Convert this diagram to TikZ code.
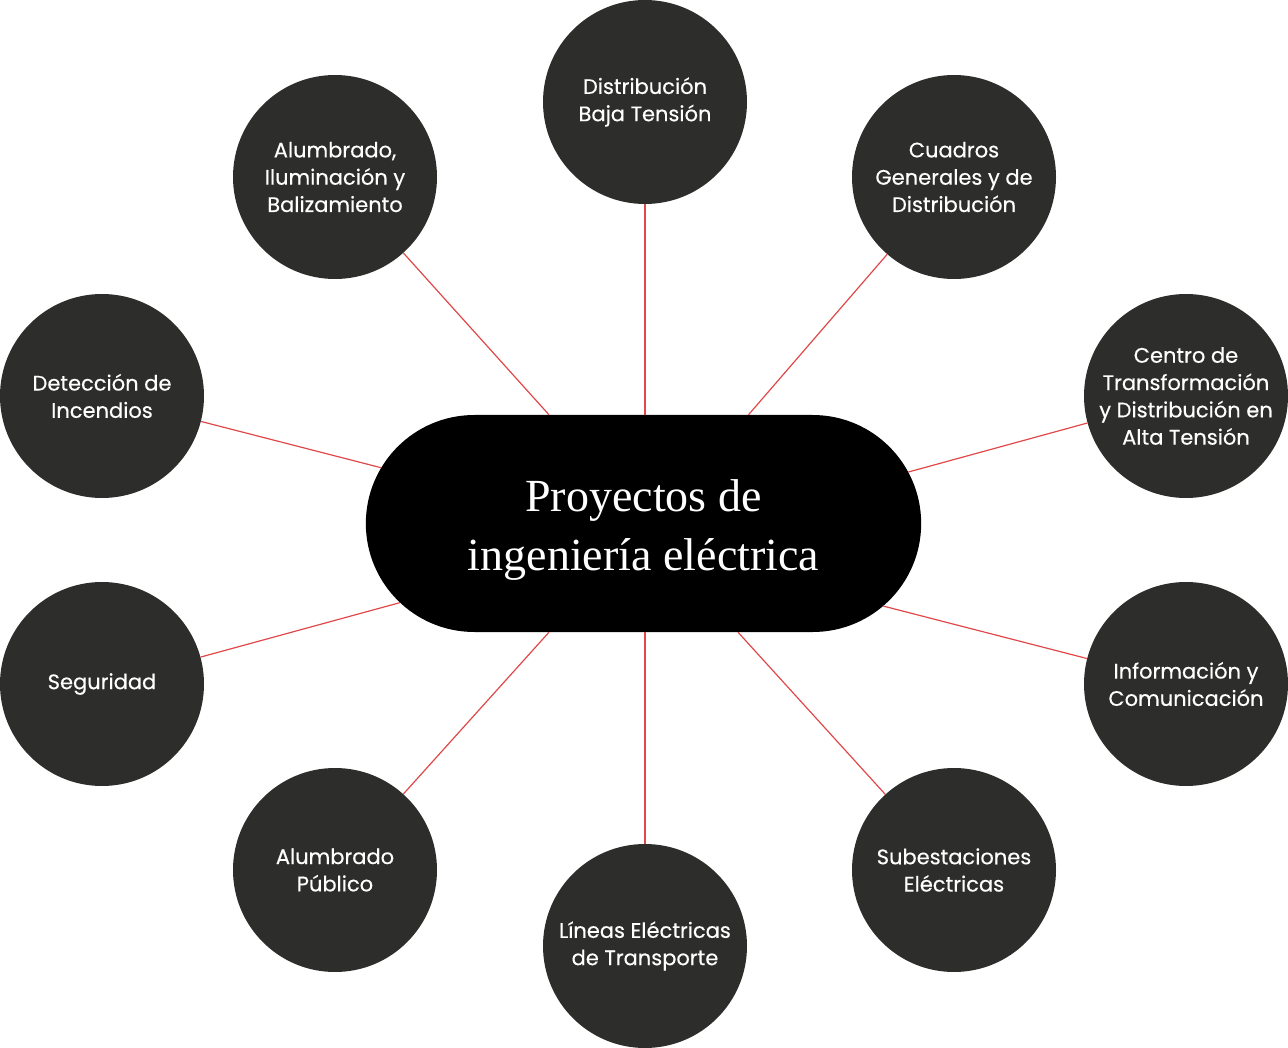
\documentclass[tikz,border=0pt]{standalone}
\usepackage{fontspec}
\setmainfont{Poppins}[FakeBold=0.35]
\newfontfamily\titlefont{Liberation Serif}
\usetikzlibrary{shapes.misc}
\definecolor{bubble}{HTML}{2D2D2B}
\definecolor{wire}{HTML}{E0484A}
\tikzset{
  topic/.style = {circle, fill = bubble, text = white, minimum size = 204pt, inner sep = 0pt,
    align = center, font = \fontsize{21}{27.3}\selectfont},
  hub/.style = {rounded rectangle, fill = black, minimum width = 562pt, minimum height = 217pt},
  heading/.style = {text = white, align = center, font = \titlefont\fontsize{46}{59}\selectfont},
  link/.style = {draw = wire, line width = 1.2pt}
}
\begin{document}
\begin{tikzpicture}[x = 1pt, y = -1pt]
    \useasboundingbox (0,0) rectangle (1288,1048);
    \node [hub] (hub) at (643.5,523.5) {};
    \node [heading] (title) at (643.5,530) {Proyectos de\\ingeniería eléctrica};
    \node [topic] (baja) at (645,102) {Distribución\\Baja Tensión};
    \node [topic] (cuadros) at (954,177) {Cuadros\\Generales y de\\Distribución};
    \node [topic] (centro) at (1186,396) {Centro de\\Transformación\\y Distribución en\\Alta Tensión};
    \node [topic] (info) at (1186,684) {Información y\\Comunicación};
    \node [topic] (sub) at (954,870) {Subestaciones\\Eléctricas};
    \node [topic] (lineas) at (645,946) {Líneas Eléctricas\\de Transporte};
    \node [topic] (publico) at (335,870) {Alumbrado\\Público};
    \node [topic] (seg) at (102,684) {Seguridad};
    \node [topic] (incendios) at (102,396) {Detección de\\Incendios};
    \node [topic] (alumbrado) at (335,177) {Alumbrado,\\Iluminación y\\Balizamiento};
    % spokes
    \draw [link] (baja) -- (baja |- hub.north);
    \draw [link] (cuadros) -- (hub.46.9);
    \draw [link] (centro) -- (hub.11.6);
    \draw [link] (info) -- (hub.341.4);
    \draw [link] (sub) -- (hub.311.6);
    \draw [link] (lineas) -- (lineas |- hub.south);
    \draw [link] (publico) -- (hub.229.5);
    \draw [link] (seg) -- (hub.198.6);
    \draw [link] (incendios) -- (hub.168.6);
    \draw [link] (alumbrado) -- (hub.131.7);
  \end{tikzpicture}
\end{document}
